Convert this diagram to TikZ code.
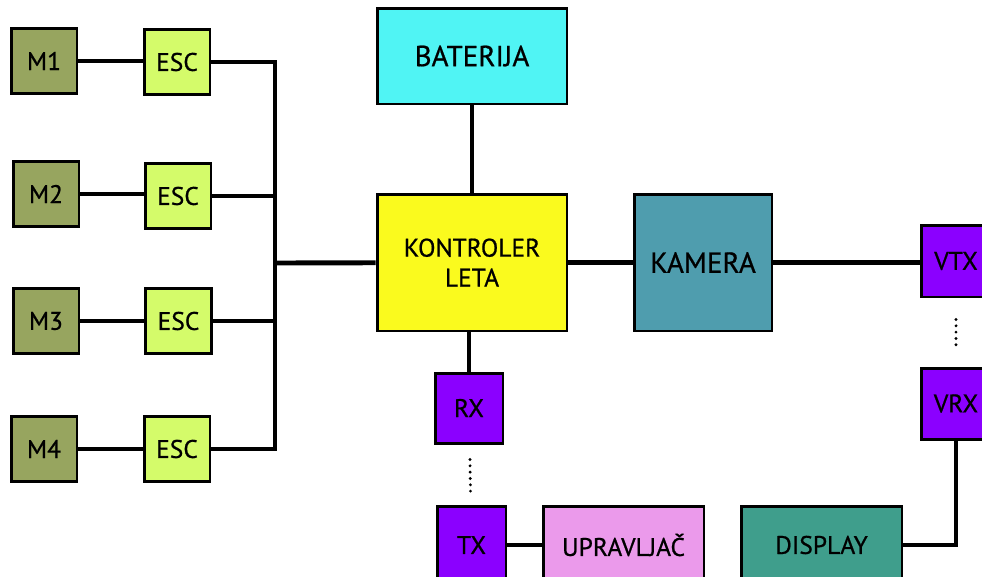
\documentclass[tikz,border=0pt]{standalone}
\usepackage{fontspec}
\setmainfont{PT Sans}[FakeBold=0.7]
\definecolor{motorc}{HTML}{97A55F}
\definecolor{escc}{HTML}{D4FB6A}
\definecolor{batc}{HTML}{50F4F4}
\definecolor{fcc}{HTML}{FAFA1E}
\definecolor{kamc}{HTML}{4F9DAE}
\definecolor{radioc}{HTML}{8B00FF}
\definecolor{uprc}{HTML}{EB9AEB}
\definecolor{dispc}{HTML}{3F9E8C}

\begin{document}
\begin{tikzpicture}[x=0.02cm, y=-0.02cm,
	blok/.style={draw, line width=1.7pt, inner sep=0pt, font=\fontsize{14.5}{17}\selectfont, align=center},
	wire/.style={line width=2.8pt},
	veza/.style={line width=1.8pt, line cap=round, dash pattern=on 0pt off 3.6pt}]
	\useasboundingbox (0,0) rectangle (982,576);
	%\draw[help lines] (0,0) grid[step=1cm] (982,576);
	% motori i ESC
	\node[blok, fill=motorc, minimum width=1.32cm, minimum height=1.3cm] (m1) at (44,61) {M1};
	\node[blok, fill=motorc, minimum width=1.32cm, minimum height=1.3cm] (m2) at (46,194) {M2};
	\node[blok, fill=motorc, minimum width=1.32cm, minimum height=1.3cm] (m3) at (46,321) {M3};
	\node[blok, fill=motorc, minimum width=1.32cm, minimum height=1.3cm] (m4) at (44,449) {M4};
	\node[blok, fill=escc, minimum width=1.32cm, minimum height=1.3cm] (esc1) at (177,62) {ESC};
	\node[blok, fill=escc, minimum width=1.32cm, minimum height=1.3cm] (esc2) at (178,196) {ESC};
	\node[blok, fill=escc, minimum width=1.32cm, minimum height=1.3cm] (esc3) at (178.5,321) {ESC};
	\node[blok, fill=escc, minimum width=1.32cm, minimum height=1.3cm] (esc4) at (177,449) {ESC};
	\coordinate (bus) at (275,263);
	% centralni dio
	\node[blok, fill=batc, minimum width=3.8cm, minimum height=1.92cm, font=\fontsize{16.5}{19}\selectfont] (bat) at (472,56) {BATERIJA};
	\node[blok, fill=fcc, minimum width=3.8cm, minimum height=2.74cm] (fc) at (472,262.5) {KONTROLER\\LETA};
	\node[blok, fill=kamc, minimum width=2.76cm, minimum height=2.74cm, font=\fontsize{16.5}{19}\selectfont] (kam) at (703,262.5) {KAMERA};
	\node[blok, fill=radioc, minimum width=1.36cm, minimum height=1.4cm] (rx) at (469,408) {RX};
	\node[blok, fill=radioc, minimum width=1.38cm, minimum height=1.56cm] (tx) at (471.5,545) {TX};
	\node[blok, fill=uprc, minimum width=3.22cm, minimum height=1.56cm] (upr) at (623.5,545) {UPRAVLJAČ};
	\node[blok, fill=radioc, minimum width=1.4cm, minimum height=1.44cm] (vtx) at (956,261) {VTX};
	\node[blok, fill=radioc, minimum width=1.4cm, minimum height=1.42cm] (vrx) at (956,403.5) {VRX};
	\node[blok, fill=dispc, minimum width=3.22cm, minimum height=1.56cm] (disp) at (821.5,545) {DISPLAY};
	% veze
	\draw[wire] (m1) -- (m1 -| esc1.west);
	\draw[wire] (m2) -- (m2 -| esc2.west);
	\draw[wire] (m3) -- (esc3);
	\draw[wire] (m4) -- (esc4);
	\draw[wire] (esc1) -| (bus);
	\draw[wire] (esc4) -| (bus);
	\draw[wire] (esc2) -| (bus);
	\draw[wire] (esc3) -| (bus);
	\draw[wire] (bus) -- (fc);
	\draw[wire] (bat) -- (fc);
	\draw[wire] (fc) -- (fc -| kam.west);
	\draw[wire] (kam) -- (kam -| vtx.west);
	\draw[wire] (fc.south -| rx) -- (rx);
	\draw[wire] (tx) -- (upr);
	\draw[wire] (vrx) |- (disp);
	\draw[veza, shorten <=0.3cm, shorten >=0.26cm] (rx) -- (tx);
	\draw[veza, shorten <=0.42cm, shorten >=0.32cm] (vtx) -- (vrx);
\end{tikzpicture}
\end{document}
